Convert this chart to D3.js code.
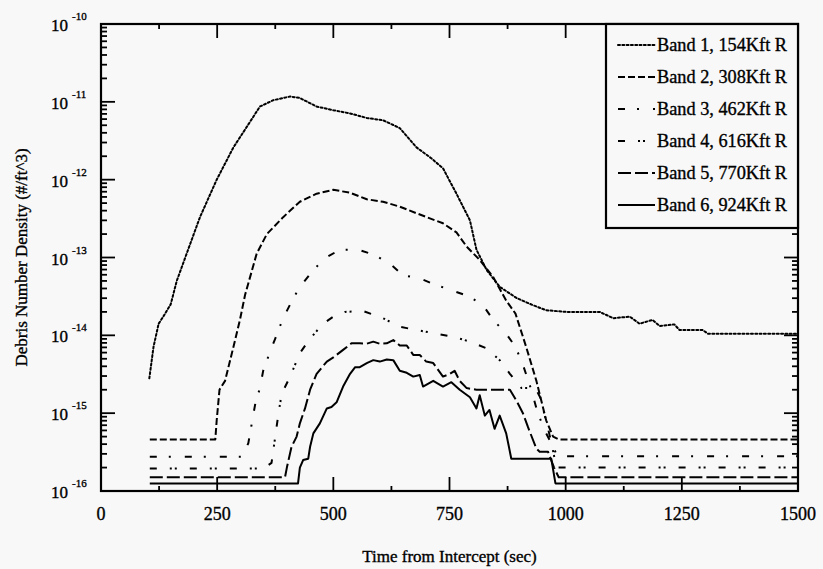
<!DOCTYPE html>
<html>
<head>
<meta charset="utf-8">
<script src="https://cdn.jsdelivr.net/npm/d3@7"></script>
<style>
  html, body { margin: 0; padding: 0; background: #f8f8f8; }
  svg { display: block; }
  text { font-family: "Liberation Serif", "Times New Roman", serif; fill: #000; stroke: #000; stroke-width: 0.35px; }
</style>
</head>
<body>
<svg id="chart" width="823" height="569"></svg>
<script>
// ---------------- data ----------------
const xTicks = [0, 250, 500, 750, 1000, 1250, 1500];
const xMinor = [125, 375, 625, 875, 1125, 1375];
const yDecades = [-16, -15, -14, -13, -12, -11, -10];
const xLabel = "Time from Intercept (sec)";
const yLabel = "Debris Number Density (#/ft^3)";
const bandNames = ["Band 1, 154Kft R", "Band 2, 308Kft R", "Band 3, 462Kft R",
                   "Band 4, 616Kft R", "Band 5, 770Kft R", "Band 6, 924Kft R"];

const band1T = [104,113,124,135,150,163,185,213,249,285,314,342,371,407,428,464,500,536,572,607,643,679,710,736,765,794,808,830,858,895,929,958,1002,1073,1090,1102,1138,1159,1187,1202,1234,1245,1295,1306,1500];
const band1V = [2.8e-15,7.1e-15,1.41e-14,1.78e-14,2.5e-14,5.0e-14,1.15e-13,3.3e-13,1.0e-12,2.6e-12,4.8e-12,8.7e-12,1.05e-11,1.17e-11,1.12e-11,8.7e-12,7.8e-12,7.1e-12,6.2e-12,5.8e-12,4.6e-12,2.6e-12,1.9e-12,1.4e-12,6.6e-13,3.0e-13,1.26e-13,6.9e-14,4.2e-14,3.0e-14,2.45e-14,2.1e-14,2.0e-14,2.0e-14,1.8e-14,1.66e-14,1.74e-14,1.41e-14,1.58e-14,1.32e-14,1.38e-14,1.17e-14,1.17e-14,1.05e-14,1.05e-14];

const band2T = [105,246,249,255,267,285,299,310,335,357,392,428,464,500,536,572,607,643,679,736,765,787,815,844,872,892,915,937,958,973,985,1500];
const band2V = [4.6e-16,4.6e-16,8.1e-16,2.0e-15,2.6e-15,7.1e-15,1.58e-14,3.3e-14,1.12e-13,2.0e-13,3.3e-13,5.2e-13,6.6e-13,7.4e-13,6.8e-13,5.6e-13,5.2e-13,4.5e-13,3.7e-13,2.75e-13,2.1e-13,1.38e-13,9.3e-14,5.6e-14,2.8e-14,1.9e-14,7.1e-15,2.6e-15,8.1e-16,5.0e-16,4.6e-16,4.6e-16];

const band3T = [105,303,317,324,332,342,349,364,375,392,410,428,457,482,514,554,590,622,650,686,718,754,790,822,844,872,892,908,926,940,958,973,982,1500];
const band3V = [2.75e-16,2.75e-16,4.1e-16,7.1e-16,1.32e-15,2.1e-15,3.5e-15,6.2e-15,9.1e-15,1.66e-14,2.7e-14,4.2e-14,6.9e-14,9.8e-14,1.26e-13,1.26e-13,1.07e-13,8.3e-14,5.9e-14,5.4e-14,4.5e-14,3.8e-14,3.2e-14,2.45e-14,1.58e-14,1.05e-14,7.1e-15,4.2e-15,2.0e-15,1.0e-15,5.5e-16,3.7e-16,2.8e-16,2.8e-16];

const band4T = [105,350,367,375,382,389,407,428,450,478,500,525,564,607,643,679,722,761,794,830,858,880,905,935,945,958,970,980,1500];
const band4V = [1.95e-16,1.95e-16,2.3e-16,5.0e-16,1.0e-15,1.78e-15,2.95e-15,5.9e-15,9.1e-15,1.41e-14,1.74e-14,2.0e-14,2.05e-14,1.66e-14,1.29e-14,1.17e-14,1.05e-14,9.5e-15,8.3e-15,6.8e-15,4.8e-15,3.2e-15,2.1e-15,2.1e-15,1.6e-15,8.0e-16,4.0e-16,2.0e-16,2.0e-16];

const band5T = [105,396,400,410,421,428,439,450,464,486,500,521,539,557,572,586,600,615,629,643,658,672,686,700,715,736,751,761,772,787,808,880,894,908,919,937,944,962,975,985,1500];
const band5V = [1.5e-16,1.5e-16,2.0e-16,3.7e-16,5.0e-16,7.4e-16,1.15e-15,2.0e-15,3.2e-15,4.6e-15,5.2e-15,6.5e-15,7.9e-15,7.9e-15,7.8e-15,8.3e-15,7.8e-15,7.9e-15,8.7e-15,7.4e-15,7.4e-15,5.6e-15,5.6e-15,4.6e-15,4.4e-15,2.95e-15,3.2e-15,3.5e-15,2.6e-15,2.1e-15,2.0e-15,2.0e-15,1.45e-15,1.0e-15,6.6e-16,3.5e-16,3.2e-16,3.2e-16,2.0e-16,1.5e-16,1.5e-16];

const band6T = [105,424,428,435,446,450,457,471,486,496,507,521,536,547,557,572,586,600,615,629,643,658,672,686,693,715,736,754,772,794,808,815,826,836,847,858,872,883,969,978,1500];
const band6V = [1.25e-16,1.25e-16,2.0e-16,2.5e-16,2.6e-16,3.7e-16,5.5e-16,7.4e-16,1.15e-15,1.2e-15,1.38e-15,2.2e-15,3.2e-15,3.9e-15,3.9e-15,4.4e-15,4.8e-15,4.6e-15,4.9e-15,4.8e-15,3.5e-15,3.3e-15,2.95e-15,3.1e-15,2.2e-15,2.6e-15,2.2e-15,2.5e-15,2.0e-15,1.6e-15,1.15e-15,1.7e-15,9.3e-16,1.1e-15,6.3e-16,9.3e-16,5.5e-16,2.6e-16,2.6e-16,1.25e-16,1.25e-16];

// ---------------- styles ----------------
const bandDash = ["2,2.3", "7,3", "7,12,2,14", "7,13,2,3,2,13", "13,4", null];
const bandCap = ["round", "butt", "butt", "butt", "butt", "butt"];

// ---------------- layout ----------------
const W = 823, H = 569;
const L = 101, R = 798, T = 24, B = 491;
const svg = d3.select("#chart");
svg.append("rect").attr("width", W).attr("height", H).attr("fill", "#f8f8f8");

const x = d3.scaleLinear().domain([0, 1500]).range([L, R]);
const y = d3.scaleLog().domain([1e-16, 1e-10]).range([B, T]);

const majorY = yDecades.map(e => Math.pow(10, e));
const minorY = [];
for (let e = -16; e < -10; e++) for (let m = 2; m <= 9; m++) minorY.push(m * Math.pow(10, e));

svg.append("defs").append("clipPath").attr("id", "clip")
  .append("rect").attr("x", L).attr("y", T).attr("width", R - L).attr("height", B - T);

// data lines
const bands = [[band1T, band1V], [band2T, band2V], [band3T, band3V],
               [band4T, band4V], [band5T, band5V], [band6T, band6V]];
const line = d3.line().x(d => x(d[0])).y(d => y(d[1]));
const gLines = svg.append("g").attr("clip-path", "url(#clip)");
bands.forEach((b, i) => {
  const pts = b[0].map((t, k) => [t, b[1][k]]);
  gLines.append("path").datum(pts)
    .attr("d", line)
    .attr("fill", "none")
    .attr("stroke", "#000")
    .attr("stroke-width", 2)
    .attr("stroke-linecap", bandCap[i])
    .attr("stroke-linejoin", "round")
    .attr("stroke-dasharray", bandDash[i]);
});

// ticks (inward) on all four sides
const gt = svg.append("g").attr("stroke", "#000").attr("stroke-width", 1.8);
function xTickSet(vals, len) {
  gt.append("g").selectAll("line").data(vals).join("line")
    .attr("x1", d => x(d)).attr("x2", d => x(d)).attr("y1", B).attr("y2", B - len);
  gt.append("g").selectAll("line").data(vals).join("line")
    .attr("x1", d => x(d)).attr("x2", d => x(d)).attr("y1", T).attr("y2", T + len);
}
function yTickSet(vals, len) {
  gt.append("g").selectAll("line").data(vals).join("line")
    .attr("y1", d => y(d)).attr("y2", d => y(d)).attr("x1", L).attr("x2", L + len);
  gt.append("g").selectAll("line").data(vals).join("line")
    .attr("y1", d => y(d)).attr("y2", d => y(d)).attr("x1", R).attr("x2", R - len);
}
xTickSet(xTicks, 14);
xTickSet(xMinor, 5);
yTickSet(majorY, 14);
yTickSet(minorY, 6);

// frame
svg.append("rect").attr("x", L).attr("y", T).attr("width", R - L).attr("height", B - T)
  .attr("fill", "none").attr("stroke", "#000").attr("stroke-width", 2.2);

// x tick labels
svg.append("g").selectAll("text").data(xTicks).join("text")
  .attr("x", d => x(d)).attr("y", B + 29)
  .attr("text-anchor", "middle").attr("font-size", 18)
  .text(d => d);

// y tick labels: 10^e
const yl = svg.append("g").selectAll("g").data(yDecades).join("g")
  .attr("transform", d => `translate(68,${y(Math.pow(10, d)) + 7})`);
yl.append("text").attr("text-anchor", "end").attr("font-size", 17).text("10");
yl.append("text").attr("x", 4).attr("y", -11).attr("font-size", 11).text(d => "-" + Math.abs(d));

// axis titles
svg.append("text").attr("x", (L + R) / 2).attr("y", 562).attr("text-anchor", "middle")
  .attr("font-size", 17).text(xLabel);
svg.append("text").attr("transform", `translate(27,${(T + B) / 2}) rotate(-90)`)
  .attr("text-anchor", "middle").attr("font-size", 17).text(yLabel);

// legend
const lgX = 606, lgY = T, lgW = R - 606, lgH = 204;
svg.append("rect").attr("x", lgX).attr("y", lgY).attr("width", lgW).attr("height", lgH)
  .attr("fill", "#f8f8f8").attr("stroke", "#000").attr("stroke-width", 2.2);
const lg = svg.append("g").selectAll("g").data(bandNames).join("g")
  .attr("transform", (d, i) => `translate(0,${45 + i * 32})`);
lg.append("line").attr("x1", 618).attr("x2", 655).attr("y1", 0).attr("y2", 0)
  .attr("stroke", "#000").attr("stroke-width", 2)
  .attr("stroke-linecap", (d, i) => bandCap[i])
  .attr("stroke-dasharray", (d, i) => bandDash[i]);
lg.append("text").attr("x", 657).attr("y", 6).attr("font-size", 19)
  .attr("textLength", 130).attr("lengthAdjust", "spacingAndGlyphs")
  .text(d => d);
</script>
</body>
</html>
